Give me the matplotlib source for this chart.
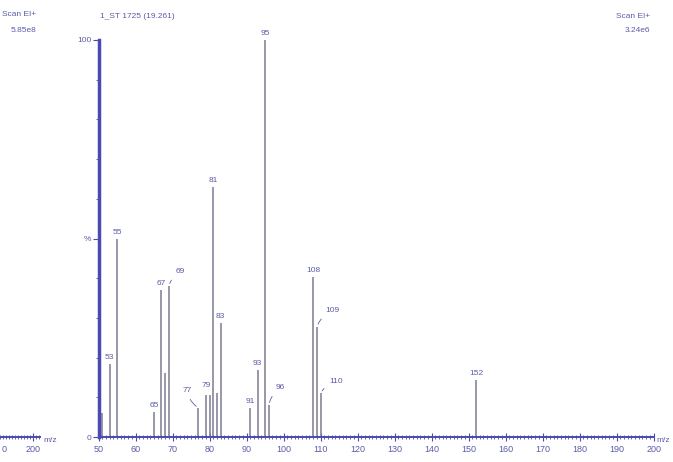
import matplotlib.pyplot as plt
from matplotlib.ticker import MultipleLocator, FixedLocator

# peak list (m/z, relative intensity %)
mz = [51, 53, 55, 65, 67, 68, 69, 77, 79, 80, 81, 82, 83, 91, 93, 95, 96, 108, 109, 110, 152]
intensity = [6, 18.5, 50, 6.3, 37, 16, 38, 7.3, 10.6, 10.6, 63, 11, 28.7, 7.3, 17, 100, 8, 40.4, 27.8, 11, 14.4]

# labelled peaks and label offsets in points (dx, dy); leader drawn when dx != 0
label_mz = [53, 55, 65, 67, 69, 77, 79, 81, 83, 91, 93, 95, 96, 108, 109, 110, 152]
label_off = [(0, 2), (0, 2), (0, 2), (0, 2), (5, 8), (-5, 10), (0, 4), (0, 2), (0, 2),
             (0, 2), (0, 2), (0, 2), (5, 10), (0, 2), (6, 9), (6, 6), (0, 2)]

title = "1_ST 1725 (19.261)"
scan_right = ("Scan EI+", "3.24e6")
scan_left = ("Scan EI+", "5.85e8")

blue = "#4a4ab0"
txt = "#5c5ca8"
peak_col = "#7a7a90"

W, H = 673, 462
fig = plt.figure(figsize=(W / 100, H / 100), dpi=100)
plt.rcParams['font.family'] = ['Liberation Sans', 'DejaVu Sans']

x0, x1 = 98.5, 653.6
y0, y1 = 437, 40
ax = fig.add_axes([x0 / W, 1 - y0 / H, (x1 - x0) / W, (y0 - y1) / H])
ax.vlines(mz, 0, intensity, color=peak_col, lw=1.1)
ax.set_xlim(50, 200)
ax.set_ylim(0, 100)

for s in ['top', 'right']:
    ax.spines[s].set_visible(False)
ax.spines['left'].set_color(blue)
ax.spines['left'].set_linewidth(2.5)
ax.spines['bottom'].set_color(blue)
ax.spines['bottom'].set_linewidth(1.4)

ax.xaxis.set_major_locator(MultipleLocator(10))
ax.xaxis.set_minor_locator(MultipleLocator(1))
ax.tick_params(axis='x', which='major', direction='inout', length=6, width=0.8, color=blue,
               labelsize=6.5, labelcolor=txt, pad=3)
ax.tick_params(axis='x', which='minor', direction='inout', length=3, width=0.6, color=blue)
ax.set_yticks([0, 50, 100])
ax.set_yticklabels(['0', '%', '100'])
ax.yaxis.set_minor_locator(MultipleLocator(10))
ax.tick_params(axis='y', which='major', direction='out', length=4, width=0.8, color=blue,
               labelsize=6, labelcolor=txt, pad=1)
ax.tick_params(axis='y', which='minor', direction='out', length=2, width=0.6, color=blue)

for m, (dx, dy) in zip(label_mz, label_off):
    h = intensity[mz.index(m)]
    ha = 'center'
    props = None
    if dx != 0:
        props = dict(arrowstyle='-', color=txt, lw=0.6, connectionstyle='arc3,rad=0.2')
        ha = 'left' if dx > 0 else 'right'
    ax.annotate(str(m), (m, h), xytext=(dx, dy), textcoords='offset points',
                ha=ha, va='bottom', fontsize=6, color=txt, arrowprops=props,
                annotation_clip=False)

fig.text(100 / W, 1 - 17 / H, title, fontsize=6, color=txt, ha='left', va='center')
fig.text(650 / W, 1 - 16 / H, scan_right[0], fontsize=6, color=txt, ha='right', va='center')
fig.text(650 / W, 1 - 31 / H, scan_right[1], fontsize=6, color=txt, ha='right', va='center')
fig.text(663 / W, 1 - 440 / H, "m/z", fontsize=6, color=txt, ha='center', va='center')

# cut-off neighbouring spectrum on the left edge
fig.text(36 / W, 1 - 15 / H, scan_left[0], fontsize=6, color=txt, ha='right', va='center')
fig.text(36 / W, 1 - 31 / H, scan_left[1], fontsize=6, color=txt, ha='right', va='center')
ax2 = fig.add_axes([0, 1 - y0 / H, 40 / W, 0.001])
ax2.set_xlim(90, 223)
ax2.set_yticks([])
for s in ['top', 'right', 'left']:
    ax2.spines[s].set_visible(False)
ax2.spines['bottom'].set_color(blue)
ax2.spines['bottom'].set_linewidth(1.4)
ax2.patch.set_alpha(0)
ax2.xaxis.set_major_locator(FixedLocator([200]))
ax2.xaxis.set_minor_locator(MultipleLocator(10))
ax2.tick_params(axis='x', which='major', direction='inout', length=6, width=0.8, color=blue,
                labelsize=6.5, labelcolor=txt, pad=3)
ax2.tick_params(axis='x', which='minor', direction='inout', length=3, width=0.6, color=blue)
fig.text(2 / W, 1 - 450 / H, "0", fontsize=6.5, color=txt, ha='left', va='center')
fig.text(50 / W, 1 - 440 / H, "m/z", fontsize=6, color=txt, ha='center', va='center')

fig.savefig("out.png", dpi=100)
